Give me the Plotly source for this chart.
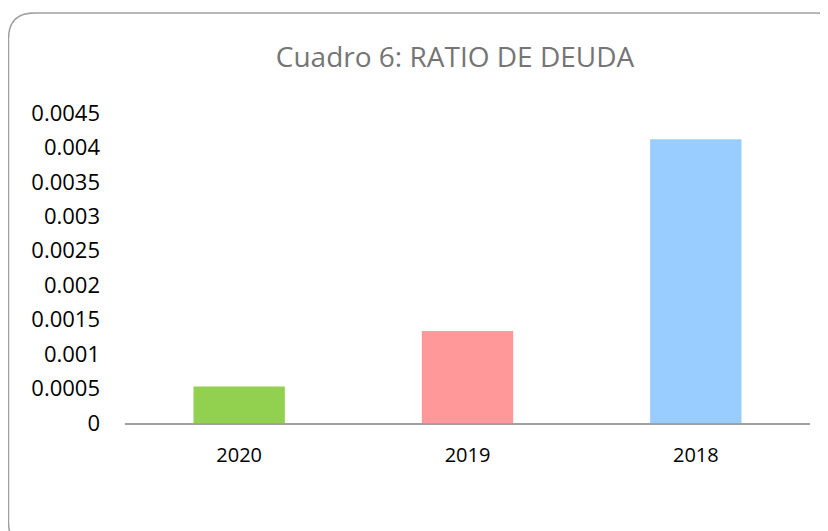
import plotly.graph_objects as go

years = ["2020", "2019", "2018"]
ratio = [0.00053, 0.001335, 0.00412]
bar_colors = ["#92d050", "#ff9999", "#99ccff"]
y_ticks = [0, 0.0005, 0.001, 0.0015, 0.002, 0.0025, 0.003, 0.0035, 0.004, 0.0045]
y_labels = ["0", "0.0005", "0.001", "0.0015", "0.002", "0.0025", "0.003", "0.0035", "0.004", "0.0045"]

# the page has an 8px body margin, so the figure is 820x523 and starts at (8, 8)
FW, FH = 820, 523
OFF = 8
# plot area in page pixels
L, R, T, B = 125 - OFF, 810 - OFF, 113 - OFF, 423 - OFF
W, H = R - L, B - T


def px(x):
    return (x - OFF - L) / W


def py(y):
    return (B - (y - OFF)) / H


# rounded frame around the chart (partly off-canvas like the original)
x0, x1, y0, y1, r = 8.5, 842, 13, 548, 26
frame = (
    f"M {px(x0 + r)},{py(y0)} L {px(x1 - r)},{py(y0)} "
    f"Q {px(x1)},{py(y0)} {px(x1)},{py(y0 + r)} "
    f"L {px(x1)},{py(y1 - r)} Q {px(x1)},{py(y1)} {px(x1 - r)},{py(y1)} "
    f"L {px(x0 + r)},{py(y1)} Q {px(x0)},{py(y1)} {px(x0)},{py(y1 - r)} "
    f"L {px(x0)},{py(y0 + r)} Q {px(x0)},{py(y0)} {px(x0 + r)},{py(y0)} Z"
)

fig = go.Figure(go.Bar(x=years, y=ratio, marker=dict(color=bar_colors, line=dict(width=0))))

fig.update_layout(
    width=FW,
    height=FH,
    margin=dict(l=L, r=FW - R, t=T, b=FH - B),
    paper_bgcolor="white",
    plot_bgcolor="white",
    bargap=0.6,
    showlegend=False,
    font=dict(family="Open Sans, sans-serif", color="black"),
    title=dict(
        text="Cuadro 6: RATIO DE DEUDA",
        x=(455 - OFF) / FW,
        xanchor="center",
        y=1 - (57 - OFF) / FH,
        yanchor="middle",
        font=dict(size=28, color="#757575"),
    ),
    xaxis=dict(
        showline=True,
        linecolor="#a0a0a0",
        linewidth=1.5,
        showgrid=False,
        ticks="",
        tickfont=dict(size=20),
        ticklabelstandoff=13,
    ),
    yaxis=dict(
        range=[0, 0.0045],
        tickmode="array",
        tickvals=y_ticks,
        ticktext=y_labels,
        showgrid=False,
        zeroline=False,
        showline=False,
        ticks="",
        tickfont=dict(size=22),
        ticklabelstandoff=24,
    ),
    shapes=[dict(type="path", path=frame, xref="paper", yref="paper",
                 line=dict(color="#a0a0a0", width=1.5), layer="below")],
)

fig.write_html("out.html")
